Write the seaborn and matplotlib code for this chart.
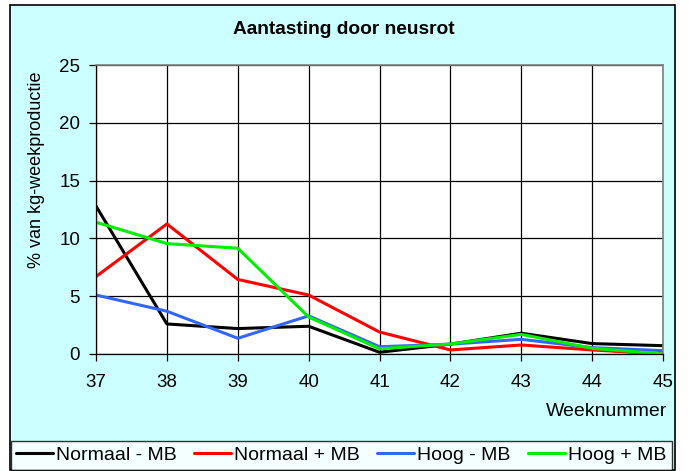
import matplotlib
matplotlib.use("Agg")
import matplotlib.pyplot as plt
import seaborn as sns
import pandas as pd
from matplotlib.patches import Rectangle
from matplotlib.lines import Line2D

weeks = [37, 38, 39, 40, 41, 42, 43, 44, 45]
normaal_min = [12.8, 2.6, 2.2, 2.4, 0.15, 0.85, 1.8, 0.9, 0.72]
normaal_plus = [6.7, 11.25, 6.45, 5.1, 1.9, 0.35, 0.78, 0.35, 0.0]
hoog_min = [5.1, 3.7, 1.36, 3.3, 0.63, 0.85, 1.27, 0.55, 0.29]
hoog_plus = [11.4, 9.55, 9.15, 3.2, 0.45, 0.87, 1.7, 0.49, 0.0]
series_names = ["Normaal - MB", "Normaal + MB", "Hoog - MB", "Hoog + MB"]
colors = ["#000000", "#FF0000", "#3366FF", "#00EE00"]

rows = []
for name, vals in zip(series_names, [normaal_min, normaal_plus, hoog_min, hoog_plus]):
    for w, v in zip(weeks, vals):
        rows.append({"Week": w, "Waarde": v, "Serie": name})
df = pd.DataFrame(rows)

sns.set_theme(style="white")
plt.rcParams['font.family'] = ['Liberation Sans', 'DejaVu Sans']
plt.rcParams['text.color'] = 'black'

W, H = 689, 471
fig = plt.figure(figsize=(6.89, 4.71), dpi=100)
fig.patch.set_facecolor("white")

# chart area background + border
fig.patches.append(Rectangle((10/W, 1-470/H), 665/W, 465/H, transform=fig.transFigure,
                             facecolor="#CCFFFF", edgecolor="black", linewidth=1.2, zorder=-5))

ax = fig.add_axes([96/W, 1-354/H, (663-96)/W, (354-65)/H])
ax.set_facecolor("white")
ax.set_zorder(1)

sns.lineplot(data=df, x="Week", y="Waarde", hue="Serie", palette=colors,
             hue_order=series_names, linewidth=2.2, ax=ax, legend=False)

ax.set_xlim(37, 45)
ax.set_ylim(0, 25)
ax.set_xticks(weeks)
ax.set_yticks([0, 5, 10, 15, 20, 25])
ax.grid(True, color="black", linewidth=0.9)
ax.tick_params(axis="both", direction="out", length=5, width=0.9, colors="black",
               labelsize=13.5, bottom=True, left=True)
ax.tick_params(axis="x", pad=9.5)
ax.tick_params(axis="y", pad=6.5)
for s in ax.spines.values():
    s.set_color("#808080")
    s.set_linewidth(1.2)
ax.spines["left"].set_color("black")
ax.spines["left"].set_linewidth(0.9)
ax.spines["bottom"].set_color("black")
ax.spines["bottom"].set_linewidth(0.9)

ax.set_xlabel("")
ax.set_ylabel("")
fig.text(37/W, 1-170/H, "% van kg-weekproductie", rotation=90, ha="center", va="center",
         fontsize=13, color="black")
fig.text(667/W, 1-411/H, "Weeknummer", ha="right", va="center", fontsize=14, color="black")
fig.text(344/W, 1-30/H, "Aantasting door neusrot", ha="center", va="center",
         fontsize=13.8, fontweight="bold", color="black")

handles = [Line2D([0], [0], color=c, linewidth=2.2) for c in colors]
leg = fig.legend(handles, series_names, loc="lower left",
                 bbox_to_anchor=(10.5/W, 1-470/H, 661.5/W, 35/H), mode="expand",
                 ncol=4, frameon=True, fancybox=False, fontsize=14,
                 handlelength=1.9, handletextpad=0.15, borderaxespad=0,
                 borderpad=0.3, columnspacing=0.9, labelcolor="black")
leg.get_frame().set_edgecolor("black")
leg.get_frame().set_linewidth(1.0)
leg.get_frame().set_facecolor("white")

fig.savefig("out.png", dpi=100, facecolor=fig.get_facecolor())
